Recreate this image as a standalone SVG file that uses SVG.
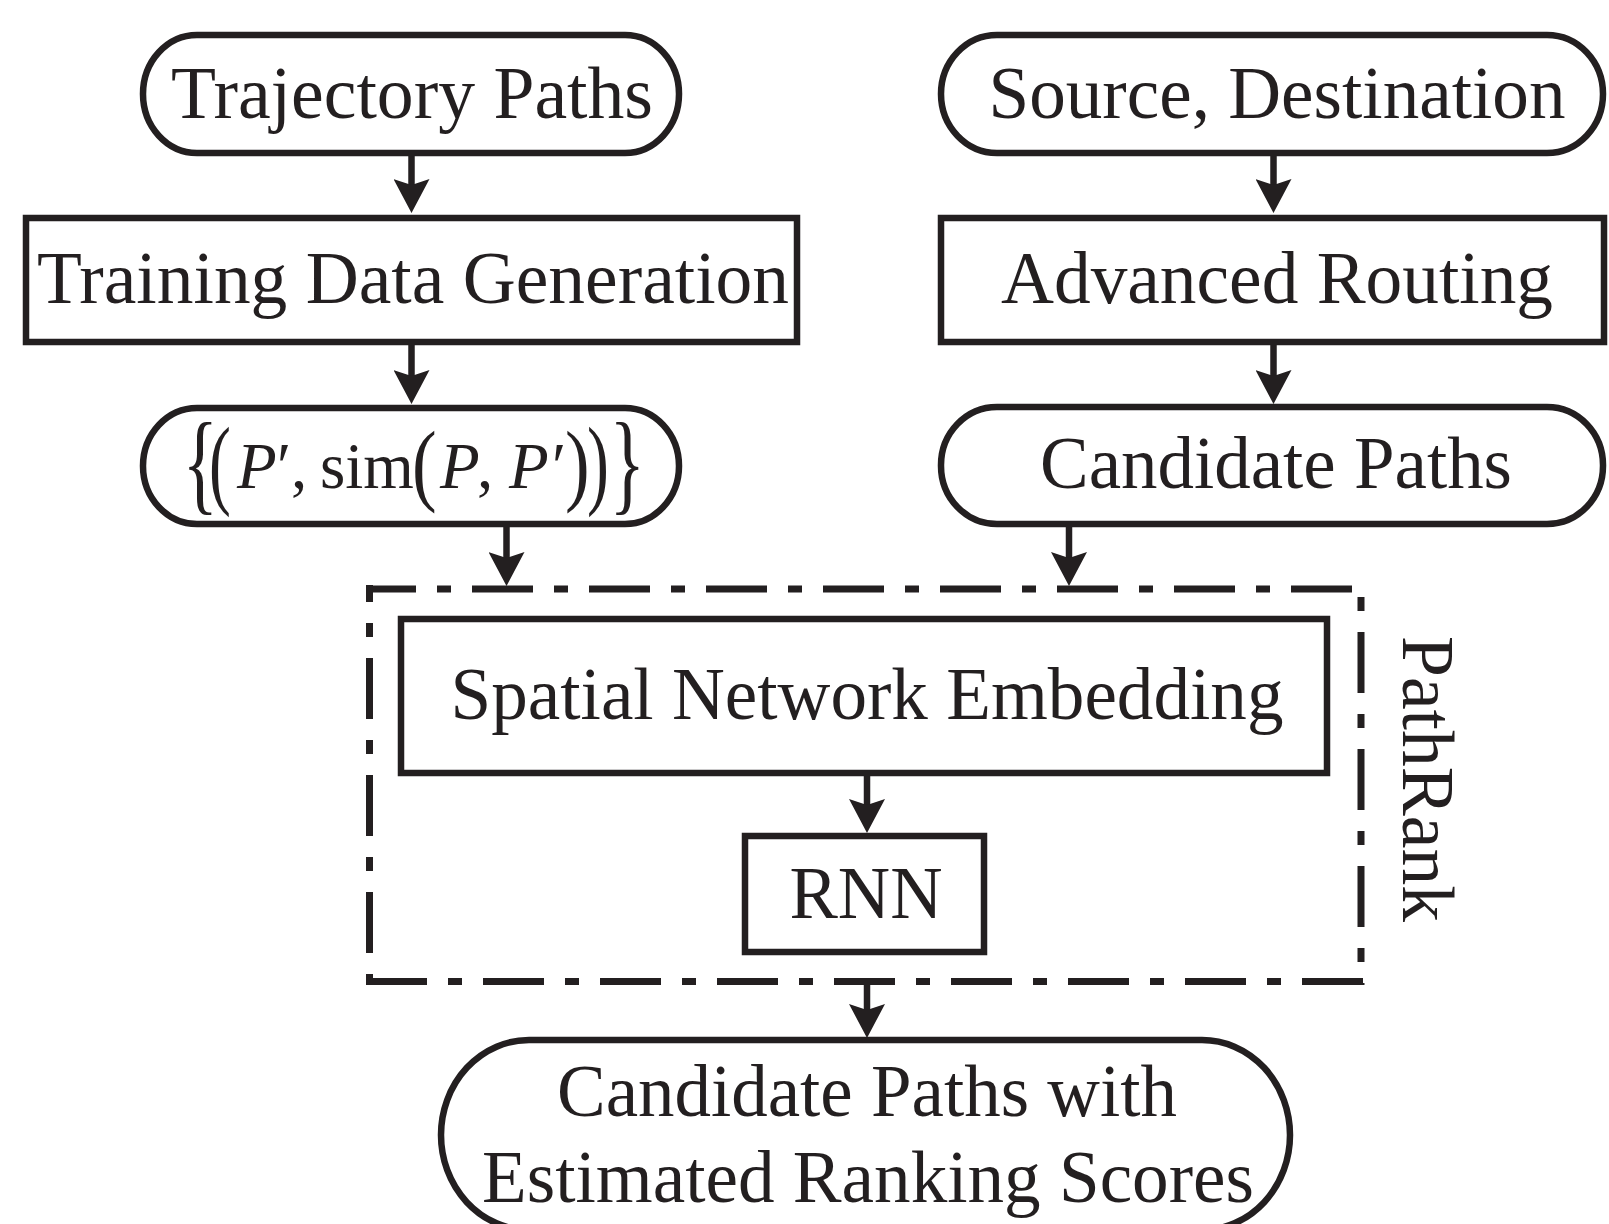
<svg xmlns="http://www.w3.org/2000/svg" width="1609" height="1224" viewBox="0 0 1609 1224">
<defs>
<style>
.shape{fill:#fff;stroke:#231f20;stroke-width:6.5}
.lbl{font-family:"Liberation Serif","Times New Roman",serif;font-size:74px;fill:#231f20;text-anchor:middle}
.fm{font-family:"Liberation Serif","Times New Roman",serif;font-size:65px;fill:#231f20}
.it{font-style:italic}
.delim{font-family:"Liberation Serif","Times New Roman",serif;font-size:74px;fill:#231f20}
.conn{stroke:#231f20;stroke-width:6.5;fill:none;marker-end:url(#ah)}
.dash{stroke:#231f20;stroke-width:7;fill:none;stroke-dasharray:61 21 14 21}
</style>
<marker id="ah" markerUnits="userSpaceOnUse" markerWidth="34" markerHeight="36" refX="12" refY="18" orient="auto">
<path d="M0,0 L34,18 L0,36 L6,18 Z" fill="#231f20"/>
</marker>
</defs>
<rect width="1609" height="1224" fill="#fff"/>

<g id="pathrank-frame">
<path class="dash" d="M366,589 H1364" stroke-dashoffset="11"/>
<path class="dash" d="M369.5,585 V985" stroke-dashoffset="44"/>
<path class="dash" d="M1361,585 V985" stroke-dashoffset="70"/>
<path class="dash" d="M366,981.5 H1364" stroke-dashoffset="0"/>
<text class="lbl" transform="translate(1403,779) rotate(90)" textLength="286" lengthAdjust="spacingAndGlyphs">PathRank</text>
</g>

<g id="trajectory-paths">
<rect class="shape" x="143" y="35" width="536" height="118" rx="54" ry="59"/>
<text class="lbl" x="412" y="118" textLength="482" lengthAdjust="spacingAndGlyphs">Trajectory Paths</text>
</g>

<g id="training-data-generation">
<rect class="shape" x="26" y="218" width="771" height="124"/>
<text class="lbl" x="413" y="303" textLength="752" lengthAdjust="spacingAndGlyphs">Training Data Generation</text>
</g>

<g id="training-pairs">
<rect class="shape" x="143" y="408" width="536" height="116" rx="54" ry="58"/>
<text class="delim" transform="translate(0,499.5) scale(1,1.52)"><tspan x="182.6">{</tspan><tspan x="209" dy="-2" font-size="65.7">(</tspan></text>
<text class="fm" y="488"><tspan class="it" x="237">P</tspan><tspan class="it" x="273">′</tspan><tspan x="291">,</tspan><tspan x="320">sim</tspan><tspan class="it" x="440">P</tspan><tspan x="477">,</tspan><tspan class="it" x="509">P</tspan><tspan class="it" x="548">′</tspan></text>
<text class="delim" transform="translate(412,494) scale(1,1.22)">(</text>
<text class="delim" transform="translate(565,494) scale(1,1.22)">)</text>
<text class="delim" transform="translate(0,499.5) scale(1,1.52)"><tspan x="587" dy="-2" font-size="65.7">)</tspan><tspan x="609.4" dy="2">}</tspan></text>
</g>

<g id="source-destination">
<rect class="shape" x="941" y="35" width="662" height="118" rx="56" ry="59"/>
<text class="lbl" x="1277" y="118" textLength="577" lengthAdjust="spacingAndGlyphs">Source, Destination</text>
</g>

<g id="advanced-routing">
<rect class="shape" x="941" y="218" width="663" height="124"/>
<text class="lbl" x="1277" y="303" textLength="552" lengthAdjust="spacingAndGlyphs">Advanced Routing</text>
</g>

<g id="candidate-paths">
<rect class="shape" x="941" y="407" width="662" height="117" rx="56" ry="58"/>
<text class="lbl" x="1276" y="488" textLength="472" lengthAdjust="spacingAndGlyphs">Candidate Paths</text>
</g>

<g id="spatial-network-embedding">
<rect class="shape" x="401" y="619" width="926" height="154"/>
<text class="lbl" x="867" y="719" textLength="833" lengthAdjust="spacingAndGlyphs">Spatial Network Embedding</text>
</g>

<g id="rnn">
<rect class="shape" x="745" y="836" width="239" height="116"/>
<text class="lbl" x="866" y="918" textLength="153" lengthAdjust="spacingAndGlyphs">RNN</text>
</g>

<g id="ranked-output">
<rect class="shape" x="441" y="1040" width="849" height="190" rx="88" ry="95"/>
<text class="lbl" x="867" y="1116" textLength="620" lengthAdjust="spacingAndGlyphs">Candidate Paths with</text>
<text class="lbl" x="868" y="1202" textLength="772" lengthAdjust="spacingAndGlyphs">Estimated Ranking Scores</text>
</g>

<g id="connectors">
<path class="conn" d="M411.5,156 V191"/>
<path class="conn" d="M411.5,345 V382"/>
<path class="conn" d="M506.5,527 V564"/>
<path class="conn" d="M1273.5,156 V191"/>
<path class="conn" d="M1273.5,345 V382"/>
<path class="conn" d="M1069,526 V564"/>
<path class="conn" d="M867,776 V811"/>
<path class="conn" d="M867,985 V1016"/>
</g>
</svg>
